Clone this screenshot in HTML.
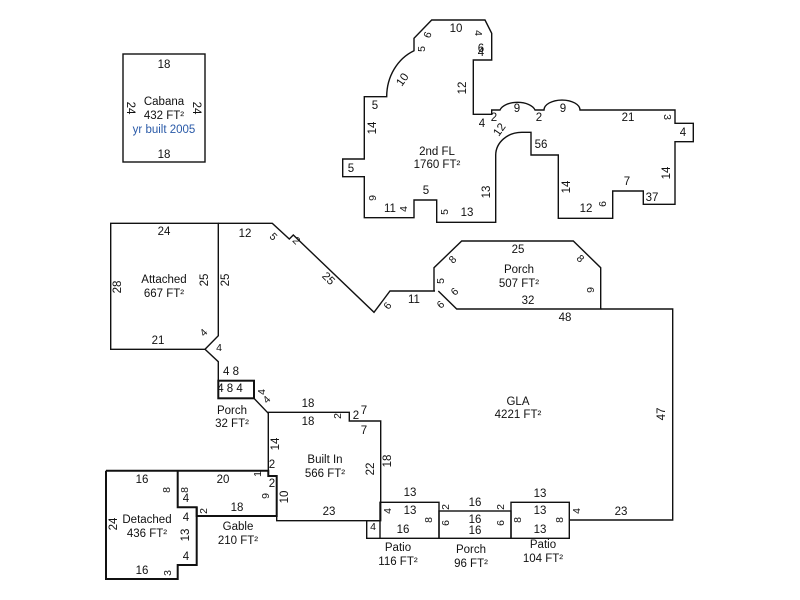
<!DOCTYPE html>
<html><head><meta charset="utf-8"><style>
html,body{margin:0;padding:0;background:#fff;}
svg{display:block;}
text{font-family:"Liberation Sans",Arial,sans-serif;font-size:11.5px;fill:#111;text-anchor:middle;dominant-baseline:central;}
.s{font-size:10.5px;}
</style></head><body>
<svg width="800" height="600" viewBox="0 0 800 600" xmlns="http://www.w3.org/2000/svg">
<g fill="none" stroke="#111" stroke-width="1.4">
<rect x="123" y="54" width="82" height="108"/>
<path d="M431.7,20 L485,20 L491.7,33.3 L491.7,60 L473.3,60 L473.3,114.3 L491.7,114.3 L491.7,110 L500,110 A18 10 0 0 1 535,110 L544,110 A18 10 0 0 1 580,110 L675,110 L675,123.3 L693.3,123.3 L693.3,141.7 L675,141.7 L675,204.3 L643.3,204.3 L643.3,191 L612.7,191 L612.7,218.3 L558.3,218.3 L558.3,155 L531,155 L531,132.3 L521.7,132.3 A26 23 0 0 0 495.7,155 L495.7,222.3 L436.7,222.3 L436.7,200 L414,200 L414,217.7 L364.3,217.7 L364.3,176.7 L342.7,176.7 L342.7,159 L364.3,159 L364.3,96.7 L386.7,96.7 A45 50 0 0 1 414,50.7 L414,38.3 Z"/>
<path d="M110.7,223.3 L218.3,223.3 L218.3,335.7 L205,349.3 L110.7,349.3 Z"/>
<path d="M218.3,223.3 L272.3,223.3 L289.3,239 L293.3,235 L374,312.3 L390,291 L435,291"/>
<path d="M205,349.3 L218.3,361.7 L218.3,380.7"/>
<path d="M434,291 L434,267.7 L461.7,241 L573.3,241 L600.7,267.7 L600.7,309 L456.7,309 L438.3,291"/>
<path d="M600.7,309 L672.7,309 L672.7,520 L569.3,520"/>
<path d="M254,398.3 L268.3,413.3"/>
<path d="M268.3,412.3 L349.3,412.3 L349.3,421 L380.7,421 L380.7,520.7 L276.7,520.7 L276.7,476 L268.3,476 Z"/>
<rect x="380" y="502.3" width="59" height="36"/>
<path d="M380,520.7 L366.7,520.7 L366.7,538.3 L380,538.3"/>
<rect x="439" y="511" width="72" height="27.3"/>
<rect x="511" y="502.3" width="58.3" height="36"/>
</g>
<g fill="none" stroke="#111" stroke-width="2">
<rect x="218.3" y="380.7" width="35.7" height="17.6"/>
<path d="M106,470.7 L268.3,470.7 L268.3,476 L276.7,476 L276.7,516 L196.7,516 L196.7,507.3 L177.7,507.3 L177.7,470.7"/>
<path d="M106,470.7 L106,579 L177.7,579 L177.7,565 L196.7,565 L196.7,507.3"/>
</g>
<!-- Cabana -->
<text x="164" y="65">18</text><text x="164" y="102">Cabana</text><text x="164" y="116">432 FT²</text>
<text x="164" y="130" style="fill:#2a5aa8">yr built 2005</text><text x="164" y="155">18</text>
<text transform="translate(130,108) rotate(90)">24</text><text transform="translate(196,108) rotate(90)">24</text>
<!-- 2nd FL -->
<text x="456" y="29">10</text><text class="s" transform="translate(478,33) rotate(90)">4</text>
<text class="s" transform="translate(428,35) rotate(-70)">6</text><text class="s" transform="translate(422,49) rotate(-90)">5</text>
<text x="481" y="49">6</text><text x="481" y="53">4</text>
<text transform="translate(403,80) rotate(-55)">10</text><text transform="translate(463,88) rotate(-90)">12</text>
<text x="375" y="106">5</text><text transform="translate(373,128) rotate(-90)">14</text>
<text x="494" y="118">2</text><text x="517" y="109">9</text><text x="539" y="118">2</text><text x="563" y="109">9</text>
<text x="628" y="118">21</text><text class="s" transform="translate(667,117) rotate(90)">3</text><text x="683" y="133">4</text>
<text x="482" y="124">4</text><text transform="translate(500,130) rotate(-55)">12</text><text x="541" y="145">56</text>
<text x="437" y="152">2nd FL</text><text x="437" y="165">1760 FT²</text><text x="351" y="169">5</text>
<text transform="translate(487,192) rotate(-90)">13</text><text transform="translate(567,187) rotate(-90)">14</text>
<text transform="translate(667,173) rotate(-90)">14</text><text x="627" y="182">7</text><text x="652" y="198">37</text>
<text x="586" y="209">12</text><text class="s" transform="translate(603,204) rotate(-90)">6</text>
<text class="s" transform="translate(373,198) rotate(-90)">9</text><text x="390" y="209">11</text>
<text class="s" transform="translate(404,209) rotate(-90)">4</text><text x="426" y="191">5</text>
<text class="s" transform="translate(445,212) rotate(-90)">5</text><text x="467" y="213">13</text>
<!-- Attached -->
<text x="164" y="232">24</text><text transform="translate(118,287) rotate(-90)">28</text>
<text x="164" y="280">Attached</text><text x="164" y="294">667 FT²</text>
<text transform="translate(205,280) rotate(-90)">25</text><text transform="translate(226,280) rotate(-90)">25</text>
<text x="158" y="341">21</text><text class="s" transform="translate(204,333) rotate(-45)">4</text><text class="s" x="219" y="348">4</text>
<text x="245" y="234">12</text><text class="s" transform="translate(273,237) rotate(45)">5</text>
<text class="s" transform="translate(296,241) rotate(45)">2</text><text transform="translate(328,279) rotate(45)">25</text>
<text class="s" transform="translate(388,306) rotate(-55)">6</text><text x="414" y="300">11</text>
<!-- Porch 507 -->
<text class="s" transform="translate(441,281) rotate(-90)">5</text><text class="s" transform="translate(455,292) rotate(-45)">6</text>
<text class="s" transform="translate(441,305) rotate(-45)">6</text><text class="s" transform="translate(453,260) rotate(-45)">8</text>
<text x="518" y="250">25</text><text x="519" y="270">Porch</text><text x="519" y="284">507 FT²</text>
<text class="s" transform="translate(580,259) rotate(45)">8</text><text class="s" transform="translate(591,290) rotate(-90)">9</text>
<text x="528" y="301">32</text><text x="565" y="318">48</text>
<text x="518" y="402">GLA</text><text x="518" y="415">4221 FT²</text><text transform="translate(662,414) rotate(-90)">47</text>
<text x="621" y="512">23</text><text class="s" transform="translate(577,511) rotate(-90)">4</text>
<!-- bottom row -->
<text x="540" y="494">13</text><text x="540" y="511">13</text><text x="540" y="530">13</text>
<text class="s" transform="translate(518,520) rotate(-90)">8</text><text class="s" transform="translate(560,520) rotate(-90)">8</text>
<text x="543" y="545">Patio</text><text x="543" y="559">104 FT²</text>
<text x="475" y="503">16</text><text class="s" transform="translate(446,507) rotate(-90)">2</text><text class="s" transform="translate(501,507) rotate(-90)">2</text>
<text class="s" transform="translate(446,523) rotate(-90)">6</text><text class="s" transform="translate(501,523) rotate(-90)">6</text>
<text x="475" y="520">16</text><text x="475" y="531">16</text>
<text x="471" y="550">Porch</text><text x="471" y="564">96 FT²</text>
<text x="410" y="493">13</text><text class="s" transform="translate(388,511) rotate(-90)">4</text><text x="410" y="511">13</text>
<text class="s" transform="translate(429,520) rotate(-90)">8</text><text x="403" y="530">16</text><text class="s" x="373" y="527">4</text>
<text x="398" y="548">Patio</text><text x="398" y="562">116 FT²</text>
<!-- Built in -->
<text x="308" y="404">18</text><text x="308" y="422">18</text><text class="s" transform="translate(338,416) rotate(-90)">2</text>
<text x="356" y="416">2</text><text x="364" y="411">7</text><text x="364" y="431">7</text>
<text transform="translate(388,461) rotate(-90)">18</text><text transform="translate(371,469) rotate(-90)">22</text>
<text x="325" y="460">Built In</text><text x="325" y="474">566 FT²</text>
<text transform="translate(276,444) rotate(-90)">14</text><text x="272" y="465">2</text>
<text class="s" transform="translate(258,474) rotate(-90)">1</text><text x="272" y="484">2</text>
<text class="s" transform="translate(266,496) rotate(-90)">9</text><text transform="translate(285,497) rotate(-90)">10</text>
<text x="329" y="512">23</text>
<!-- Gable / Detached -->
<text x="223" y="480">20</text><text x="237" y="508">18</text><text class="s" transform="translate(204,511) rotate(-90)">2</text>
<text x="238" y="527">Gable</text><text x="238" y="541">210 FT²</text>
<text x="142" y="480">16</text><text class="s" transform="translate(167,490) rotate(-90)">8</text>
<text class="s" transform="translate(185,490) rotate(-90)">8</text><text x="186" y="499">4</text>
<text x="186" y="518">4</text><text transform="translate(186,535) rotate(-90)">13</text><text x="186" y="557">4</text>
<text transform="translate(114,524) rotate(-90)">24</text><text x="147" y="520">Detached</text><text x="147" y="534">436 FT²</text>
<text x="142" y="571">16</text><text class="s" transform="translate(168,573) rotate(-90)">3</text>
<!-- small porch -->
<text x="232" y="411">Porch</text><text x="232" y="424">32 FT²</text>
<text x="231" y="372">4 8</text><text x="230" y="389">4 8 4</text>
<text class="s" transform="translate(262,392) rotate(-90)">4</text><text class="s" transform="translate(267,400) rotate(-45)">4</text>
</svg>
</body></html>
